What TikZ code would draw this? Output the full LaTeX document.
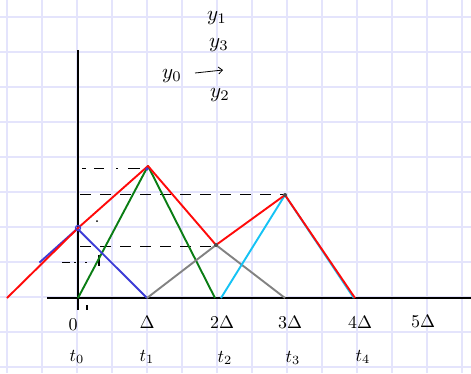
\documentclass[tikz,border=0pt]{standalone}
\usetikzlibrary{arrows.meta}
\definecolor{gridc}{RGB}{228,228,252}
\definecolor{myred}{RGB}{255,10,10}
\definecolor{mygreen}{RGB}{10,125,20}
\definecolor{myblue}{RGB}{60,60,215}
\definecolor{mygray}{RGB}{130,130,130}
\definecolor{mycyan}{RGB}{20,195,245}
\tikzset{
  gridline/.style={draw=gridc, line width=1.3pt},
  axisline/.style={draw=black, line width=2.4pt},
  curve/.style={line width=1.9pt, line join=round},
  guide/.style={draw=black, line width=1pt, dash pattern=on 11pt off 9pt},
  lbl/.style={inner sep=0pt, scale=2.1},
  tlbl/.style={inner sep=0pt, scale=1.8},
}
\begin{document}
\begin{tikzpicture}[x=1pt,y=-1pt]
\useasboundingbox (0,0) rectangle (471,373);
\fill[white] (0,0) rectangle (471,373);
% grid
\foreach \gx in {7,42,...,462} \draw[gridline] (\gx,0) -- (\gx,373);
\foreach \gy in {17,52,...,367} \draw[gridline] (0,\gy) -- (471,\gy);
% points
\coordinate (A0) at (7,298);
\coordinate (O) at (78,298);
\coordinate (P0) at (78,228);
\coordinate (D1) at (147,298);
\coordinate (P1) at (148,166);
\coordinate (D2g) at (215,298);
\coordinate (P2) at (216,245);
\coordinate (D2c) at (221,298);
\coordinate (P3) at (285,195);
\coordinate (D3) at (285,298);
\coordinate (D4) at (355,298);
\coordinate (Bs) at (40,262);
% guide dashes
\draw[black, line width=1pt, dash pattern=on 4pt off 8pt on 10pt off 12pt on 2pt off 10pt on 12pt off 4pt] (82,168) -- (146,168);
\draw[guide] (80,194) -- (283,194);
\draw[guide] (80,246) -- (214,246);
\draw[black, line width=1pt] (62,262) -- (70,262) (74,262) -- (76,262) (85,262) -- (87,262);
\draw[black, line width=1.2pt] (99,255) -- (99,266);
\fill[black] (97,221) circle (1pt);
% axes
\draw[axisline] (47,298) -- (471,298);
\draw[axisline] (78,50) -- (78,310);
\draw[black, line width=1.5pt] (87,305) -- (87,310);
% curves
\draw[curve, mygreen] (O) -- (P1) -- (D2g);
\draw[curve, myblue] ([xshift=-0.6pt,yshift=-0.6pt]Bs) -- ([xshift=-0.6pt,yshift=-0.6pt]P0) -- (D1);
\draw[curve, mygray] (D1) -- (P2) -- (D3);
\draw[curve, mycyan] (D2c) -- (P3) -- ([xshift=-1.2pt]D4);
\draw[curve, myred] (A0) -- (P0) -- (P1) -- (P2) -- (P3) -- (D4);
\draw[myblue, line width=1.3pt] (P0) circle (2.5pt);
\fill[myblue] (147,169) circle (1.8pt);
\fill[black!70] (P2) circle (2pt);
\fill[black!70] (P3) circle (2pt);
% labels
\node[lbl] (y1) at (217,18) {$y_1$};
\node[lbl] (y3) at (219,45) {$y_3$};
\node[lbl] (y0) at (172,76) {$y_0$};
\node[lbl] (y2) at (220,95) {$y_2$};
\draw[line width=0.8pt, -{Straight Barb[length=4pt,width=7pt]}] (195,73) -- (223,70);
\node[tlbl] (x0) at (73,325) {$0$};
\node[tlbl] (x1) at (147,322) {$\Delta$};
\node[tlbl] (x2) at (222,322) {$2\Delta$};
\node[tlbl] (x3) at (290,322) {$3\Delta$};
\node[tlbl] (x4) at (360,322) {$4\Delta$};
\node[tlbl] (x5) at (423,321) {$5\Delta$};
\node[tlbl] (t0) at (77,357) {$t_0$};
\node[tlbl] (t1) at (147,357) {$t_1$};
\node[tlbl] (t2) at (225,358) {$t_2$};
\node[tlbl] (t3) at (293,358) {$t_3$};
\node[tlbl] (t4) at (363,357) {$t_4$};
\end{tikzpicture}
\end{document}
